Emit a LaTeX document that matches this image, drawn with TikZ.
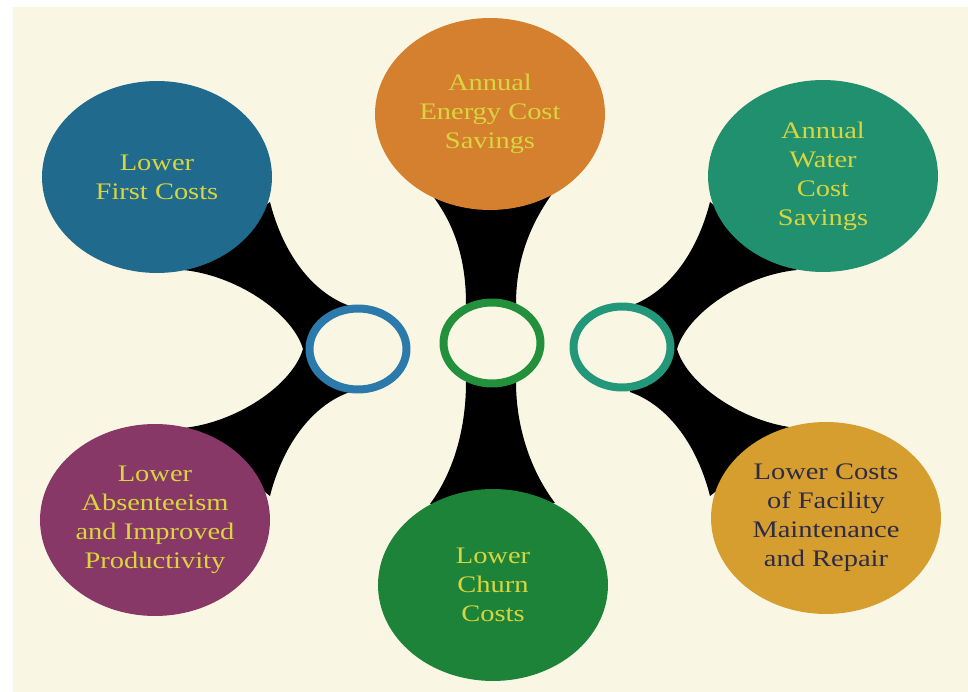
\documentclass[tikz,border=0pt]{standalone}
\usepackage{fontspec}
\setmainfont{Liberation Serif}[FakeStretch=1.2]
\usetikzlibrary{shapes.geometric}
\definecolor{cream}{HTML}{F9F7E3}
\definecolor{blueb}{HTML}{206A8E}
\definecolor{orangeb}{HTML}{D4802E}
\definecolor{tealb}{HTML}{21906F}
\definecolor{purpleb}{HTML}{873867}
\definecolor{greenb}{HTML}{1D8339}
\definecolor{goldb}{HTML}{D69E2E}
\definecolor{bluering}{HTML}{2C7AAC}
\definecolor{greenring}{HTML}{23903C}
\definecolor{tealring}{HTML}{22977A}
\definecolor{lighttext}{HTML}{D8D53E}
\definecolor{darktext}{HTML}{2D2B45}
\tikzset{
  bubble/.style={ellipse, minimum width=4.6cm, minimum height=3.84cm, inner sep=0pt,
    align=center, text=lighttext, font=\fontsize{13.5}{16.5}\selectfont},
  ring/.style={ellipse, minimum width=1.94cm, minimum height=1.62cm, inner sep=0pt,
    line width=0.16cm, fill=cream},
}

\begin{document}
\begin{tikzpicture}[x=0.02cm,y=-0.02cm]
					%BACKGROUND
					\useasboundingbox (0,0) rectangle (968,692);
					\fill[white] (0,0) rectangle (968,692);
					\fill[cream] (13,7) rectangle (968,692);
					%SIDE ARMS (left one, then mirrored)
					\foreach \s/\o in {1/0,-1/980}{
					\begin{scope}[shift={(\o,0)},xscale=\s]
					\fill[black] (183,270) .. controls (235,275) and (292,312) .. (303,349)
					  .. controls (292,386) and (235,423) .. (183,428) -- (270,496)
					  .. controls (282,448) and (310,406) .. (350,392) -- (358,349) -- (350,306)
					  .. controls (310,292) and (282,250) .. (270,202) -- cycle;
					\end{scope}
					}
					%MIDDLE ARM
					\fill[black] (432,195) .. controls (455,225) and (466,260) .. (466,304) -- (466,382)
					  .. controls (466,426) and (455,470) .. (430,504) -- (555,503)
					  .. controls (530,470) and (516,426) .. (516,382) -- (516,304)
					  .. controls (516,260) and (530,225) .. (552,194) -- cycle;
					%RINGS
					\node[ring, draw=bluering] (ringl) at (358,349) {};
					\node[ring, draw=greenring] (ringm) at (492,343) {};
					\node[ring, draw=tealring] (ringr) at (622,347) {};
					%BUBBLES
					\node[bubble, fill=blueb] (first) at (157,177) {Lower\\First Costs};
					\node[bubble, fill=orangeb] (energy) at (490,114) {Annual\\Energy Cost\\Savings};
					\node[bubble, fill=tealb] (water) at (823,176) {Annual\\Water\\Cost\\Savings};
					\node[bubble, fill=purpleb] (absent) at (155,520) {Lower\\Absenteeism\\and Improved\\Productivity};
					\node[bubble, fill=greenb] (churn) at (493,585) {Lower\\Churn\\Costs};
					\node[bubble, fill=goldb, text=darktext] (repair) at (826,518) {Lower Costs\\of Facility\\Maintenance\\and Repair};
\end{tikzpicture}
\end{document}
